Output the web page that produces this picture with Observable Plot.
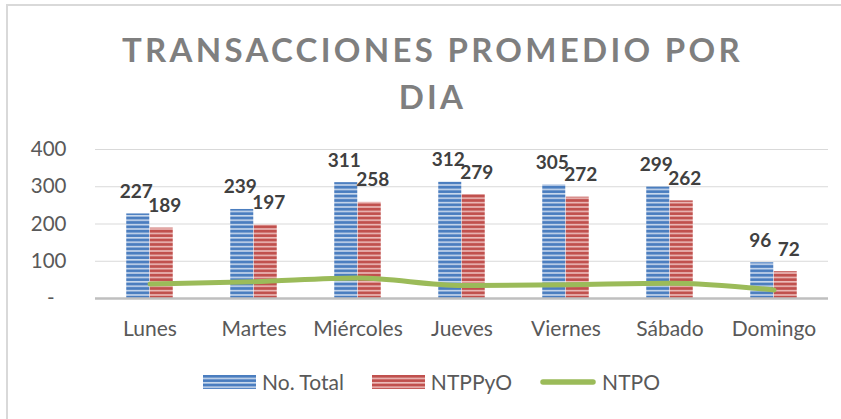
<!DOCTYPE html>
<html><head><meta charset="utf-8">
<script src="https://cdn.jsdelivr.net/npm/d3@7"></script>
<script src="https://cdn.jsdelivr.net/npm/@observablehq/plot@0.6"></script>
<style>
body{margin:0;background:#fff;}
#wrap{position:relative;width:841px;height:419px;overflow:hidden;font-family:Lato,"Open Sans",sans-serif;background:#fff;}
#frame{position:absolute;left:6px;top:4px;width:900px;height:500px;border:2px solid #d9d9d9;box-sizing:border-box;}
#title{position:absolute;left:12px;width:841px;top:26px;text-align:center;font-weight:bold;font-size:33px;letter-spacing:3.3px;color:#7f7f7f;line-height:47px;}
#chart{position:absolute;left:0;top:120px;}
#legend{position:absolute;top:369px;left:11px;width:841px;display:flex;justify-content:center;align-items:center;gap:28px;font-size:21px;color:#595959;}
.item{display:flex;align-items:center;gap:6px;}
</style>
</head><body>
<svg width="0" height="0" style="position:absolute">
  <defs>
    <pattern id="pBlue" patternUnits="userSpaceOnUse" width="8" height="4.4">
      <rect width="8" height="4.4" fill="#4a7dbf"/>
      <rect y="2.6" width="8" height="1.6" fill="#c9d8ec"/>
    </pattern>
    <pattern id="pRed" patternUnits="userSpaceOnUse" width="8" height="4.4">
      <rect width="8" height="4.4" fill="#c0504d"/>
      <rect y="2.6" width="8" height="1.6" fill="#ecbcba"/>
    </pattern>
  </defs>
</svg>
<div id="wrap">
  <div id="frame"></div>
  <div id="title"></div>
  <div id="chart"></div>
  <div id="legend"></div>
</div>
<script>
const titleLines = ["TRANSACCIONES PROMEDIO POR", "DIA"];
const days = ["Lunes","Martes","Miércoles","Jueves","Viernes","Sábado","Domingo"];
const seriesNames = ["No. Total","NTPPyO","NTPO"];
const total = [227,239,311,312,305,299,96];
const ntppyo = [189,197,258,279,272,262,72];
const ntpo = [39,45,55,35,37,41,23];
const yTicks = [0,100,200,300,400];

document.getElementById("title").innerHTML = titleLines.join("<br>");

const blueData = days.map((d,i)=>({day:d, value:total[i]}));
const redData = days.map((d,i)=>({day:d, value:ntppyo[i]}));
const lineData = days.map((d,i)=>({day:d, value:ntpo[i]}));
const bw = 23.5;

const chart = Plot.plot({
  width: 841, height: 230,
  marginTop: 29, marginBottom: 52, marginLeft: 95, marginRight: 13,
  x: {domain: days, paddingInner: 0.776, paddingOuter: 0.388, label: null, tickSize: 0, tickPadding: 23},
  y: {domain: [0,400], ticks: yTicks, label: null, tickSize: 0, tickPadding: 29,
      tickFormat: d => d === 0 ? "-\u2007" : String(d)},
  style: {fontFamily: "Lato, 'Open Sans', sans-serif", fontSize: "21px", color: "#595959", background: "transparent"},
  marks: [
    Plot.gridY(yTicks.filter(t => t > 0), {stroke: "#d9d9d9", strokeOpacity: 1, strokeWidth: 1}),
    Plot.barY(blueData, {x: "day", y: "value", fill: "url(#pBlue)", dx: -bw/2}),
    Plot.barY(redData, {x: "day", y: "value", fill: "url(#pRed)", dx: bw/2}),
    Plot.ruleY([0], {stroke: "#bfbfbf", strokeWidth: 2.5}),
    Plot.line(lineData, {x: "day", y: "value", stroke: "#9bbb59", strokeWidth: 5, curve: "monotone-x"}),
    Plot.text(blueData, {x: "day", y: "value", text: d => String(d.value), dx: -bw/2 - 2, dy: -16, lineAnchor: "bottom",
      fontWeight: "bold", fontSize: 19, fill: "#404040"}),
    Plot.text(redData, {x: "day", y: "value", text: d => String(d.value), dx: bw/2 + 3, dy: -16, lineAnchor: "bottom",
      fontWeight: "bold", fontSize: 19, fill: "#404040"})
  ]
});
chart.querySelectorAll("g[aria-label='y-axis tick label'] text").forEach(t => t.style.fontSize = "20.5px");
document.getElementById("chart").appendChild(chart);

const legend = document.getElementById("legend");
const swatches = [
  `<svg width="53" height="14"><rect width="53" height="14" fill="url(#pBlue)"/></svg>`,
  `<svg width="53" height="14"><rect width="53" height="14" fill="url(#pRed)"/></svg>`,
  `<svg width="56" height="14"><line x1="3" x2="53" y1="7" y2="7" stroke="#9bbb59" stroke-width="5.5" stroke-linecap="round"/></svg>`
];
seriesNames.forEach((name, i) => {
  const el = document.createElement("div");
  el.className = "item";
  el.innerHTML = swatches[i] + `<span>${name}</span>`;
  legend.appendChild(el);
});
</script>
</body></html>
